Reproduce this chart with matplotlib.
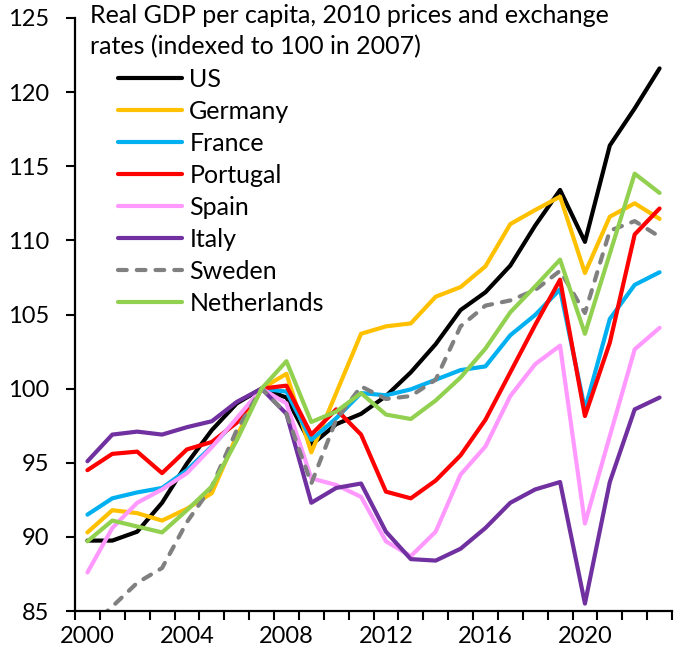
import matplotlib
matplotlib.use("Agg")
import matplotlib.pyplot as plt
from matplotlib.ticker import FixedLocator

years = list(range(2000, 2024))

us = [89.75, 89.75, 90.35, 92.3, 94.95, 97.2, 99.0, 100, 99.4, 96.2, 97.6, 98.3,
      99.5, 101.1, 103.0, 105.3, 106.5, 108.3, 111.0, 113.4, 109.9, 116.4, 118.9, 121.6]
germany = [90.3, 91.8, 91.6, 91.1, 91.9, 92.95, 96.8, 100, 101.0, 95.7, 99.7, 103.7,
           104.2, 104.4, 106.2, 106.85, 108.25, 111.1, 112.05, 112.95, 107.8, 111.6, 112.5, 111.45]
france = [91.5, 92.6, 93.0, 93.3, 94.5, 96.1, 97.9, 100, 99.8, 96.55, 98.0, 99.7,
          99.55, 99.95, 100.6, 101.25, 101.5, 103.6, 104.97, 106.7, 98.6, 104.7, 107.0, 107.85]
portugal = [94.5, 95.6, 95.75, 94.3, 95.9, 96.4, 97.7, 100, 100.2, 96.9, 98.6, 96.9,
            93.05, 92.6, 93.8, 95.5, 97.9, 101.1, 104.3, 107.35, 98.15, 103.1, 110.4, 112.15]
spain = [87.6, 90.6, 92.3, 93.2, 94.3, 96.05, 98.0, 100, 99.0, 93.95, 93.5, 92.7,
         89.7, 88.7, 90.35, 94.2, 96.1, 99.5, 101.65, 102.9, 90.9, 96.8, 102.65, 104.1]
italy = [95.1, 96.9, 97.1, 96.9, 97.4, 97.8, 99.1, 100, 98.3, 92.3, 93.3, 93.6,
         90.35, 88.5, 88.4, 89.2, 90.6, 92.3, 93.2, 93.7, 85.5, 93.7, 98.6, 99.4]
sweden = [83.8, 85.3, 86.9, 87.9, 91.0, 93.4, 97.2, 100, 98.3, 93.6, 97.9, 100.15,
          99.3, 99.5, 100.6, 104.2, 105.6, 105.95, 106.65, 107.95, 105.1, 110.65, 111.3, 110.25]
netherlands = [89.7, 91.1, 90.7, 90.3, 91.8, 93.4, 96.5, 100, 101.85, 97.75, 98.45, 99.7,
               98.25, 97.95, 99.2, 100.75, 102.7, 105.15, 106.9, 108.7, 103.7, 109.1, 114.5, 113.2]

series = [
    ("US", us, "#000000", "-"),
    ("Germany", germany, "#FFC000", "-"),
    ("France", france, "#00B0F0", "-"),
    ("Portugal", portugal, "#FF0000", "-"),
    ("Spain", spain, "#FF99FF", "-"),
    ("Italy", italy, "#7030A0", "-"),
    ("Sweden", sweden, "#808080", "--"),
    ("Netherlands", netherlands, "#92D050", "-"),
]

title_lines = ["Real GDP per capita, 2010 prices and exchange",
               "rates (indexed to 100 in 2007)"]
yticks = [85, 90, 95, 100, 105, 110, 115, 120, 125]
xlabel_years = [2000, 2004, 2008, 2012, 2016, 2020]

plt.rcParams['font.family'] = ['Lato', 'DejaVu Sans']

W, H = 677, 662
fig = plt.figure(figsize=(W / 100, H / 100), dpi=100)
ax = fig.add_axes([75 / W, (H - 611) / H, (672 - 75) / W, (611 - 18) / H])

lw = 3.0
for name, vals, color, ls in series:
    if ls == "--":
        ax.plot(years, vals, color=color, lw=lw, label=name,
                linestyle=(0, (2.1, 2.4)), dash_capstyle='round',
                dash_joinstyle='round')
    else:
        ax.plot(years, vals, color=color, lw=lw, label=name,
                solid_capstyle='round', solid_joinstyle='round')

ax.set_xlim(1999.5, 2023.5)
ax.set_ylim(85, 125)

ax.set_yticks(yticks)
ax.set_xticks(xlabel_years)
ax.xaxis.set_minor_locator(FixedLocator([1999.5 + k for k in range(25)]))
ax.tick_params(axis='x', which='major', length=0, pad=11, labelsize=17)
ax.tick_params(axis='x', which='minor', length=6.5, width=1.5, direction='out')
ax.tick_params(axis='y', which='major', length=6.5, width=1.5, direction='out',
               pad=12, labelsize=17)

for s in ['top', 'right']:
    ax.spines[s].set_visible(False)
for s in ['left', 'bottom']:
    ax.spines[s].set_linewidth(1.6)
    ax.spines[s].set_color('black')

fs = 18
fig.text(90 / W, 1 - 23 / H, title_lines[0], ha='left', va='baseline', fontsize=fs)
fig.text(90 / W, 1 - 54 / H, title_lines[1], ha='left', va='baseline', fontsize=fs)

leg = ax.legend(loc='upper left', bbox_to_anchor=(118 / W, 1 - 68 / H),
                bbox_transform=fig.transFigure, frameon=False, fontsize=fs,
                handlelength=2.55, handletextpad=0.3, labelspacing=0.36,
                borderpad=0, borderaxespad=0)

fig.savefig("out.png", dpi=100)
